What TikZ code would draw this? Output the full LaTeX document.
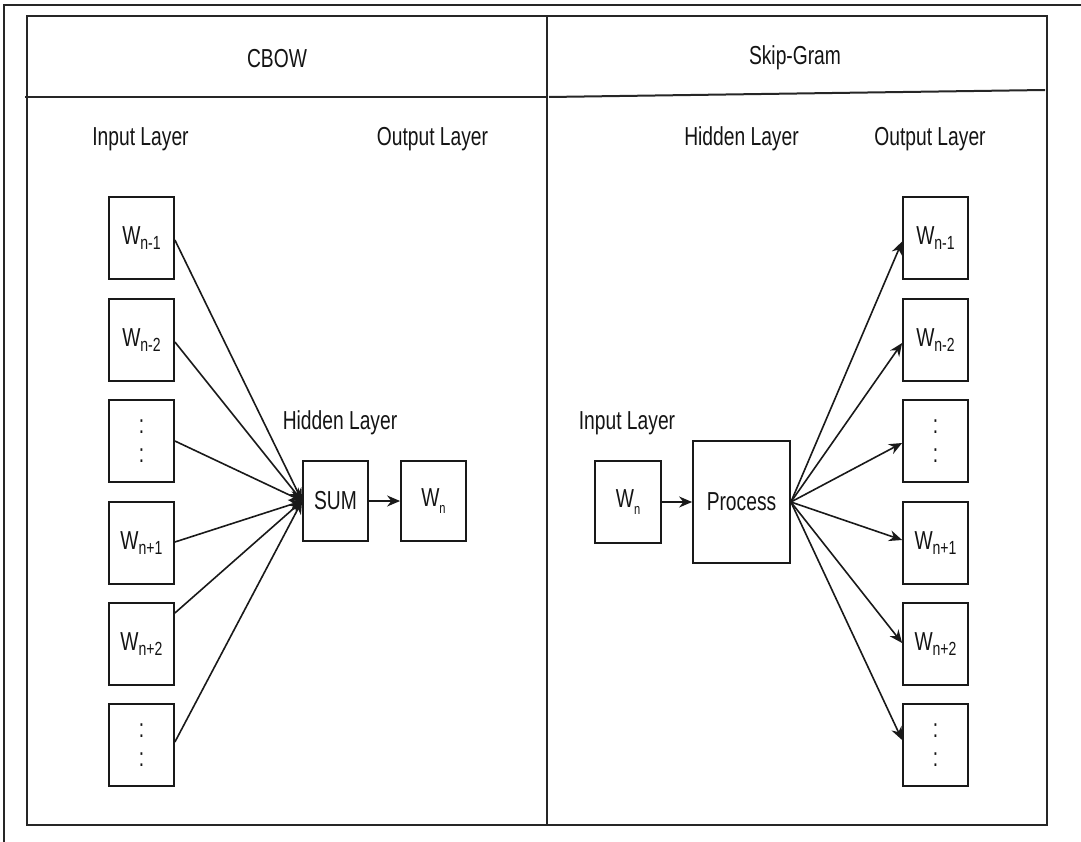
\documentclass[tikz,border=0pt]{standalone}
\usepackage{fontspec}
\setmainfont[FakeStretch=0.74]{Liberation Sans}
\usetikzlibrary{arrows.meta}
\newcommand\Wsub[1]{W\raisebox{-5pt}{\fontsize{19}{19}\selectfont #1}}
\newcommand\Wsm{W\raisebox{-7pt}{\fontsize{15}{15}\selectfont n}}
\begin{document}
\begin{tikzpicture}[x=1pt,y=-1pt,
  box/.style={draw=black!90, line width=1.8pt, minimum width=65pt, minimum height=82pt, inner sep=0pt, align=center, font=\fontsize{26}{29}\selectfont, text=black!92},
  lbl/.style={anchor=base, font=\fontsize{26}{29}\selectfont, text=black!92, inner sep=0pt},
  arr/.style={line width=1.6pt, draw=black!90, -{Stealth[length=13pt,width=11pt]}},
  fr/.style={line width=2pt, draw=black!85}]
\useasboundingbox (0,0) rectangle (1081,842);
% frames
\draw[fr] (1081,5) -- (4,5) -- (4,842);
\draw[fr] (27,16) rectangle (1047,825);
\draw[fr] (547,16) -- (547,825);
\draw[fr] (25,97) -- (547,97);
\draw[fr] (549,97) -- (1045,90);
% headers
\node[lbl] (hc) at (277,68) {CBOW};
\node[lbl] (hs) at (795,65) {Skip-Gram};
% labels
\node[lbl] (li) at (140.5,146) {Input Layer};
\node[lbl] (lo) at (432.5,146) {Output Layer};
\node[lbl] (lh) at (340,429) {Hidden Layer};
\node[lbl] (rh) at (741.5,146) {Hidden Layer};
\node[lbl] (ro) at (930,146) {Output Layer};
\node[lbl] (ri) at (627,429) {Input Layer};
% CBOW boxes
\node[box] (L1) at (141.5,238) {\Wsub{n-1}};
\node[box] (L2) at (141.5,340) {\Wsub{n-2}};
\node[box] (L3) at (141.5,441) {:\\:};
\node[box] (L4) at (141.5,543) {\Wsub{n+1}};
\node[box] (L5) at (141.5,644) {\Wsub{n+2}};
\node[box] (L6) at (141.5,745) {:\\:};
\node[box, minimum height=80pt] (sum) at (335.5,501) {SUM};
\node[box, minimum height=80pt] (wo) at (433.5,501) {\Wsm};
% Skip-gram boxes
\node[box] (R1) at (935.5,238) {\Wsub{n-1}};
\node[box] (R2) at (935.5,340) {\Wsub{n-2}};
\node[box] (R3) at (935.5,441) {:\\:};
\node[box] (R4) at (935.5,543) {\Wsub{n+1}};
\node[box] (R5) at (935.5,644) {\Wsub{n+2}};
\node[box] (R6) at (935.5,745) {:\\:};
\node[box, minimum width=66pt] (wi) at (628,502) {\Wsm};
\node[box, minimum width=97pt, minimum height=122pt] (proc) at (741.5,502) {Process};
% CBOW arrows
\draw[arr] ([yshift=-2pt]L1.east) -- (sum.west);
\draw[arr] ([yshift=-2pt]L2.east) -- (sum.west);
\draw[arr] (L3.east) -- (sum.west);
\draw[arr] ([yshift=1pt]L4.east) -- (sum.west);
\draw[arr] ([yshift=31pt]L5.east) -- (sum.west);
\draw[arr] ([yshift=3pt]L6.east) -- (sum.west);
\draw[arr] (sum.east) -- (wo.west);
% Skip-gram arrows
\draw[arr] (wi.east) -- (proc.west);
\draw[arr] (proc.east) -- ([yshift=-3.5pt]R1.west);
\draw[arr] (proc.east) -- ([yshift=-3pt]R2.west);
\draw[arr] (proc.east) -- ([yshift=-2pt]R3.west);
\draw[arr] (proc.east) -- ([yshift=3pt]R4.west);
\draw[arr] (proc.east) -- ([yshift=1pt]R5.west);
\draw[arr] (proc.east) -- ([yshift=5pt]R6.west);
\end{tikzpicture}
\end{document}
